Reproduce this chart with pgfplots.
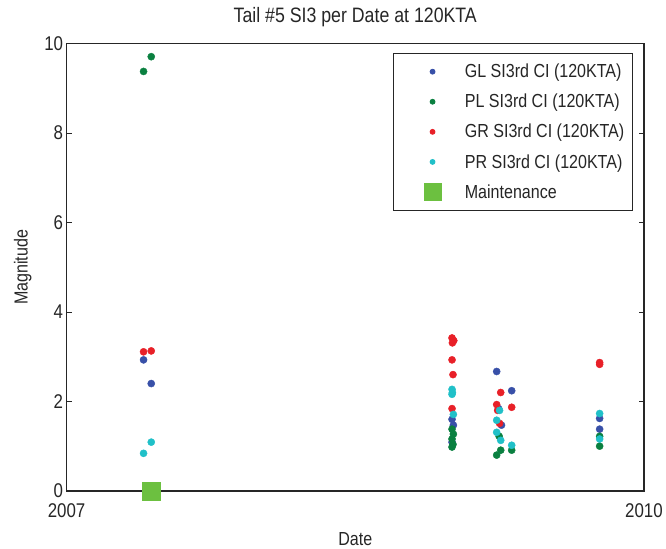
\documentclass[border=0pt]{standalone}
\usepackage{fontspec}
\setmainfont{Liberation Sans}[FakeStretch=0.85]
\usepackage{pgfplots}
\pgfplotsset{compat=1.18}
\definecolor{cGL}{RGB}{56,80,168}
\definecolor{cPL}{RGB}{10,128,64}
\definecolor{cGR}{RGB}{232,32,40}
\definecolor{cPR}{RGB}{32,192,200}
\definecolor{cMT}{RGB}{108,192,64}
\definecolor{axc}{RGB}{38,38,38}
\begin{document}
\begin{tikzpicture}
\begin{axis}[name=ax,
  scale only axis, width=581pt, height=450pt,
  xmin=2007, xmax=2010, ymin=0, ymax=10,
  xtick={2007,2010}, ytick={0,2,4,6,8,10},
  /pgf/number format/assume math mode=true,
  xticklabel style={/pgf/number format/1000 sep={}, font=\fontsize{20}{22}\selectfont, text=axc, yshift=-9pt},
  yticklabel style={font=\fontsize{20}{22}\selectfont, text=axc},
  tick align=inside, major tick length=5pt,
  axis line style={axc, line width=1.4pt},
  every tick/.style={axc, line width=1pt},
  title={Tail \#5 SI3 per Date at 120KTA},
  title style={font=\fontsize{21}{24}\selectfont, text=axc, yshift=7pt},
  xlabel={Date}, ylabel={Magnitude},
  xlabel style={font=\fontsize{19}{22}\selectfont, text=axc, yshift=-8pt},
  ylabel style={font=\fontsize{19}{22}\selectfont, text=axc, yshift=6pt},
  clip=false,
  legend cell align=left,
  legend style={at={(0.9805,0.98)}, anchor=north east, draw=axc, line width=1pt,
    font=\fontsize{19}{22}\selectfont, text=axc, row sep=11pt, inner ysep=9pt, inner xsep=6pt},
  legend image code/.code={\draw[#1] plot coordinates {(33pt,0pt)}; \path (0pt,0pt) (63pt,0pt);},
]
\addplot[only marks, mark=*, mark size=3.6pt, color=cGL,
  legend image post style={mark size=2.4pt}] coordinates {
(2007.40,2.93) (2007.44,2.40)
(2009.003,1.60) (2009.010,1.47) (2009.003,1.09)
(2009.235,2.67) (2009.313,2.24) (2009.245,1.84) (2009.260,1.47)
(2009.770,1.62) (2009.770,1.38)
};
\addlegendentry{GL SI3rd CI (120KTA)}
\addplot[only marks, mark=*, mark size=3.6pt, color=cPL,
  legend image post style={mark size=2.4pt}] coordinates {
(2007.40,9.38) (2007.44,9.71)
(2009.003,1.38) (2009.010,1.27) (2009.003,1.16) (2009.008,1.04) (2009.003,0.98)
(2009.248,1.22) (2009.256,0.91) (2009.235,0.80) (2009.313,0.91)
(2009.770,1.22) (2009.770,1.00)
};
\addlegendentry{PL SI3rd CI (120KTA)}
\addplot[only marks, mark=*, mark size=3.6pt, color=cGR,
  legend image post style={mark size=2.4pt}] coordinates {
(2007.40,3.11) (2007.44,3.13)
(2009.003,3.42) (2009.012,3.36) (2009.005,3.31) (2009.003,2.93) (2009.008,2.60) (2009.003,1.84)
(2009.256,2.20) (2009.235,1.93) (2009.313,1.87) (2009.240,1.80) (2009.250,1.51)
(2009.770,2.87) (2009.770,2.83)
};
\addlegendentry{GR SI3rd CI (120KTA)}
\addplot[only marks, mark=*, mark size=3.6pt, color=cPR,
  legend image post style={mark size=2.4pt}] coordinates {
(2007.40,0.84) (2007.44,1.09)
(2009.003,2.27) (2009.005,2.20) (2009.003,2.16) (2009.010,1.71)
(2009.250,1.80) (2009.235,1.58) (2009.235,1.31) (2009.256,1.13) (2009.313,1.02)
(2009.770,1.73) (2009.770,1.16)
};
\addlegendentry{PR SI3rd CI (120KTA)}
\addplot[only marks, mark=square*, mark size=9pt, color=cMT,
  legend image post style={mark size=8.5pt}] coordinates {
(2007.44,0)
};
\addlegendentry{Maintenance}
\end{axis}
\path ([xshift=-67pt,yshift=-54pt]ax.south west) rectangle ([xshift=18pt,yshift=44pt]ax.north east);
\end{tikzpicture}
\end{document}
